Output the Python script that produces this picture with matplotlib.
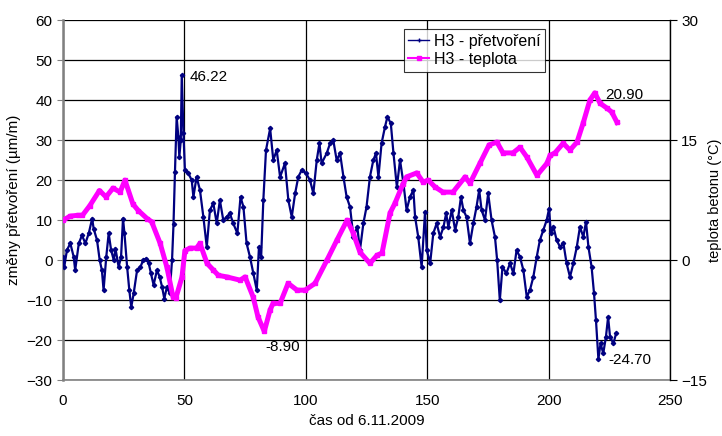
import numpy as np
import matplotlib.pyplot as plt
from matplotlib.lines import Line2D

plt.rcParams['font.family'] = ['Liberation Sans', 'DejaVu Sans']

# H3 - pretvoreni (um/m)
t_eps = [0, 0.5, 1.6, 3, 4.4, 5, 6.5, 7.8, 9.2, 10.6, 12, 12.6, 14, 15.1, 16, 16.7,
         17.8, 18.8, 19.8, 20.9, 21.6, 22.9, 23.9, 24.7, 25.3, 26.4, 27.3, 28.1, 29.1,
         30.5, 31.9, 33, 34.3, 35.3, 36.2, 37.3, 38.7, 39.8, 40.8, 41.7, 42.8, 43.9,
         44.9, 45.5, 46.1, 46.8, 47.5, 47.9, 48.5, 48.9, 49.6, 50.2, 51.6, 53, 53.7,
         55, 56.4, 57.8, 59.2, 60.5, 61.9, 63.3, 64.6, 66, 67.4, 68.7, 70.1, 71.8,
         73.1, 74.3, 75.6, 77, 78.4, 79.8, 80.7, 81.6, 82.5, 83.6, 85.3, 86.6, 88,
         89.4, 91.4, 92.8, 94.2, 95.6, 96.9, 98.3, 100.1, 101.7, 103.1, 104.5, 105.6,
         106.5, 108.6, 110, 111.3, 112.7, 114.1, 115.5, 116.8, 118.2, 119.6, 121.2,
         122.3, 123.7, 125, 126.4, 127.8, 128.9, 129.9, 131.2, 132.6, 133.6, 135,
         136.1, 137.5, 138.8, 140.2, 141.5, 142.9, 144.3, 145, 146.3, 147.7, 149.1,
         149.8, 151.2, 152.5, 153.9, 155.3, 156.7, 157.8, 158.7, 160.1, 161.5, 162.8,
         163.9, 164.9, 166.2, 167.6, 169, 170.3, 171.4, 172.4, 173.8, 175.1, 176.5,
         177.9, 178.8, 179.9, 181, 182.6, 184.1, 185.5, 186.8, 188.2, 189.6, 191,
         192.3, 193.7, 195.1, 196.4, 197.8, 199.2, 200.2, 200.9, 202, 203.3, 204.7,
         206.1, 207.4, 208.8, 210.2, 211.6, 212.9, 214.3, 215.4, 216.4, 217.7, 218.7,
         219.5, 220.5, 221.4, 222.5, 223.6, 224.5, 225.3, 226.7, 227.8]
eps = [0.8, -1.7, 2.5, 4.2, 0.8, -2.5, 4.2, 6.2, 4.2, 6.7, 10.4, 7.9, 5, 0, -2.5, -7.5,
       0.8, 6.7, 2.5, 0, 2.9, -1.7, 0.8, 10.4, 6.7, -1.7, -7.5, -11.7, -8.3,
       -2.5, -1.7, 0, 0.4, -0.8, -3.3, -6.2, -2.5, -4.2, -6.7, -9.6, -6.7, -8.3,
       0, 9, 22, 35.8, 30.8, 25.8, 30, 46.22, 31.7, 22.5, 21.7, 20, 15.8,
       20.8, 17.5, 10.8, 3.3, 12.5, 14.2, 9.2, 15, 10, 10.8, 11.7, 9.2, 6.7,
       15.8, 13.3, 4.2, 0.8, -3.3, -7.5, 3.3, 0.8, 15, 27.5, 32.9, 25, 27.5,
       20.8, 24.2, 15, 10.8, 16.7, 20.8, 22.5, 21.7, 20, 16.7, 25, 29.2,
       24.2, 26.7, 29.2, 30, 25, 26.7, 20.8, 15.8, 13.3, 5.8, 8.3,
       2.5, 9.2, 13.3, 20.8, 25, 26.7, 20.8, 29.2, 33.3, 35.8, 34.2,
       26.7, 18.3, 25, 19.2, 12.5, 15.8, 17.5, 10.8, 5.8, -1.7, 12.1,
       2.5, -0.8, 6.7, 9.2, 5.8, 8.3, 11.7, 8.3, 12.5, 7.5, 10.8,
       15.8, 12.5, 10.8, 4.2, 9.2, 13.3, 17.5, 12.5, 10, 16.7, 10,
       5.8, 0, -10, -1.7, -3.3, -0.8, -3.3, 2.5, 0.8, -2.5, -9.2,
       -7.5, -4.2, 0.8, 5, 7.5, 10, 12.9, 6.7, 8.3, 5, 3.3,
       4.2, -0.8, -4.2, -0.8, 3.3, 8.3, 5.8, 9.6, 3.3, -1.7, -8.3,
       -15, -24.7, -20.8, -23.3, -19.2, -14.2, -19.2, -20.8, -18.3]

# H3 - teplota (degC)
t_tmp = [0, 3, 6, 8, 11, 15, 17.7, 20.6, 23.5, 25.5, 28.8, 31, 34.6, 36.5, 40, 42.8,
         45.3, 46.5, 49, 50.2, 52.3, 55, 56.4, 59.3, 61.8, 64, 67.5, 72.9, 75, 78.3,
         80.3, 82.9, 85.3, 86.5, 89.4, 92.7, 96.4, 99.7, 103.8, 108.7, 112.8, 117,
         119.5, 122.3, 126.4, 129.3, 131.4, 134.7, 136.7, 140, 141.5, 145.7, 148.3,
         150.4, 153.2, 156.5, 160.6, 165.6, 167.6, 171.7, 175.5, 178.7, 181.2, 185.3,
         188.2, 191, 195.2, 199.3, 200.6, 202.6, 206, 208.8, 211.7, 214.2, 217, 219,
         221.2, 224, 226, 228.2]
tmp = [5.0, 5.5, 5.6, 5.6, 6.8, 8.7, 7.9, 9.0, 8.5, 10.0, 7.0, 6.2, 5.2, 4.8, 2.1, -0.9,
       -4.6, -4.7, -2.1, 1.2, 1.5, 1.5, 2.1, -0.4, -1.2, -1.9, -2.1, -2.5, -2.1, -4.6,
       -7.1, -8.9, -6.2, -5.4, -5.4, -2.9, -3.75, -3.75, -2.9, 0, 2.5, 5.0,
       3.4, 1.0, -0.4, 0.6, 0.9, 5.9, 7.1, 9.5, 10.4, 10.9, 9.75,
       10.0, 9.15, 8.5, 8.5, 10.4, 9.6, 12.1, 14.4, 14.75, 13.4, 13.4,
       14.1, 12.9, 10.6, 12.1, 13.1, 13.4, 14.6, 13.75, 14.75, 17.1, 20.0, 20.9,
       19.6, 19.0, 18.5, 17.2]

navy = '#000080'
mag = '#ff00ff'

fig = plt.figure(figsize=(7.22, 4.36), dpi=100)
ax = fig.add_axes([0.0873, 0.128, 0.8407, 0.826])
ax2 = ax.twinx()

ax.plot(t_eps, eps, color=navy, lw=1.6, marker='D', ms=2.2, zorder=3)
ax2.plot(t_tmp, tmp, color=mag, lw=3.6, marker='s', ms=2.5, zorder=3)

ax.set_xlim(0, 250)
ax.set_ylim(-30, 60)
ax.set_yticks(np.arange(-30, 61, 10))
ax.set_xticks(np.arange(0, 251, 50))
ax2.set_ylim(-15, 30)
ax2.set_yticks([-15, 0, 15, 30])

ax.grid(True, color='black', lw=0.9)
ax.set_axisbelow(True)
for s in ['top', 'right']:
    ax.spines[s].set_visible(False)
ax.spines['left'].set_color('#808080')
ax.spines['left'].set_linewidth(1.8)
ax.spines['bottom'].set_color('#808080')
ax.spines['bottom'].set_linewidth(1.2)
ax2.spines['top'].set_visible(False)
ax2.spines['left'].set_visible(False)
ax2.spines['bottom'].set_visible(False)
ax2.spines['right'].set_color('black')
ax2.spines['right'].set_linewidth(1.0)

ax.tick_params(axis='y', labelsize=11, length=4, color='#808080')
ax.tick_params(axis='x', labelsize=11, length=0, pad=10)
ax2.tick_params(axis='y', labelsize=11, length=5, pad=3)

ax.set_xlabel('čas od 6.11.2009', fontsize=11, labelpad=4)
ax.set_ylabel('změny přetvoření (µm/m)', fontsize=11, labelpad=4)
ax2.set_ylabel('teplota betonu (°C)', fontsize=10.5, labelpad=1)

# value labels at the extremes
ax.text(52.3, 45.8, '46.22', fontsize=11, va='center')
ax.text(83.2, -21.8, '-8.90', fontsize=11, va='center')
ax.text(223.2, 41.3, '20.90', fontsize=11, va='center')
ax.text(224.5, -25.0, '-24.70', fontsize=11, va='center')

handles = [Line2D([], [], color=navy, lw=1.0, marker='+', ms=3),
           Line2D([], [], color=mag, lw=1.5, marker='s', ms=3)]
leg = ax.legend(handles, ['H3 - přetvoření', 'H3 - teplota'], loc='upper left',
                bbox_to_anchor=(0.561, 0.975), fontsize=11.5, frameon=True,
                fancybox=False, edgecolor='black', borderpad=0.3, labelspacing=0.2,
                handlelength=1.3, handletextpad=0.3, borderaxespad=0)
leg.get_frame().set_linewidth(0.8)
leg.set_zorder(10)

plt.savefig('out.png', dpi=100)
